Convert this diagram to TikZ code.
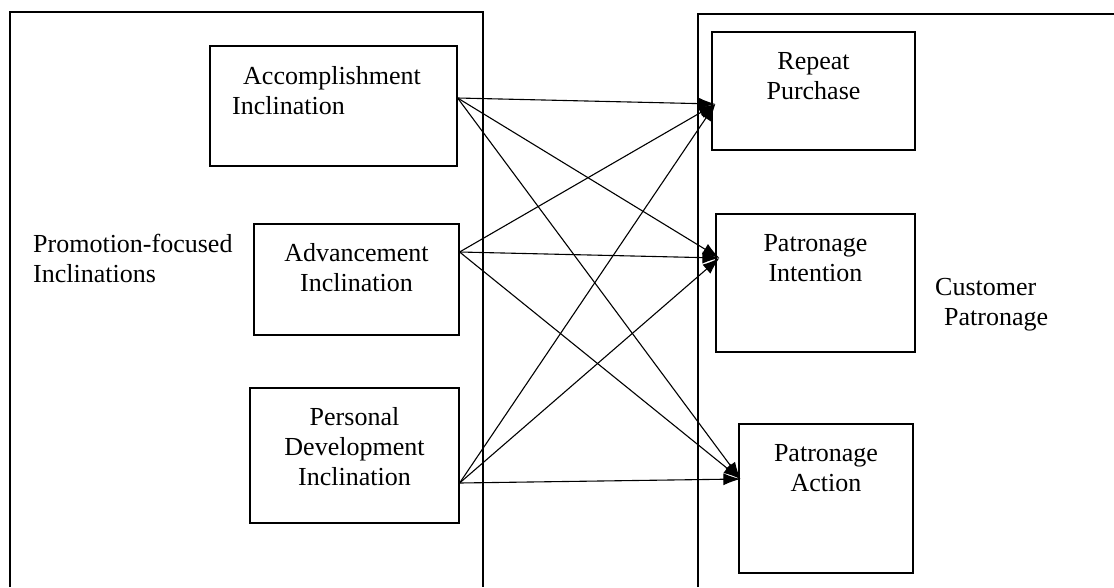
\documentclass[tikz,border=0pt]{standalone}
\usepackage{fontspec}
\setmainfont{Liberation Serif}
\usetikzlibrary{arrows.meta}
\begin{document}
\begin{tikzpicture}[x=1pt,y=-1pt,
	every node/.style={font=\fontsize{26}{30}\selectfont,inner sep=0},
	box/.style={draw,line width=1.2pt,rectangle},
	txt/.style={align=center,anchor=north},
	frame/.style={line width=1.5pt},
	link/.style={line width=1.1pt,-{Latex[length=17pt,width=12pt]}}]
\useasboundingbox (0,0) rectangle (1114,587);
% outer frames
\draw[frame] (10,587) |- (483,12) -- (483,587);
\draw[frame] (698,587) |- (1114,14);
% left boxes
\node[box,minimum width=247,minimum height=120] (acc) at (333.5,106) {};
\node[box,minimum width=205,minimum height=111] (adv) at (356.5,279.5) {};
\node[box,minimum width=209,minimum height=135] (per) at (354.5,455.5) {};
% right boxes
\node[box,minimum width=203,minimum height=118] (rp) at (813.5,91) {};
\node[box,minimum width=199,minimum height=138] (pi) at (815.5,283) {};
\node[box,minimum width=174,minimum height=149] (pa) at (826,498.5) {};
% texts
\node[align=left,anchor=north west] (acc-t) at (232,66) {\hspace{11pt}Accomplishment\\Inclination};
\node[txt] (adv-t) at ([yshift=-20pt]adv.north) {Advancement\\Inclination};
\node[txt] (per-t) at ([yshift=-20pt]per.north) {Personal\\Development\\Inclination};
\node[txt] (rp-t) at ([yshift=-21pt]rp.north) {Repeat\\Purchase};
\node[txt] (pi-t) at ([yshift=-21pt]pi.north) {Patronage\\Intention};
\node[txt] (pa-t) at ([yshift=-21pt]pa.north) {Patronage\\Action};
\node[align=left,anchor=north west] (promo) at (33,234) {Promotion-focused\\Inclinations};
\node[align=left,anchor=north west] (cust) at (935,278) {Customer\\\hspace{9pt}Patronage};
% connectors
\coordinate (acc-out) at ([yshift=8pt]acc.east);
\coordinate (adv-out) at ([yshift=27.5pt]adv.east);
\coordinate (per-out) at ([yshift=-27.5pt]per.east);
\coordinate (rp-in) at ([xshift=4pt,yshift=-13pt]rp.west);
\coordinate (pi-in) at ([xshift=4pt,yshift=25pt]pi.west);
\coordinate (pa-in) at ([xshift=2pt,yshift=19.5pt]pa.west);
\foreach \a in {acc,adv,per}
	\foreach \b in {rp,pi,pa}
		\draw[link] (\a-out) -- (\b-in);
\end{tikzpicture}
\end{document}
